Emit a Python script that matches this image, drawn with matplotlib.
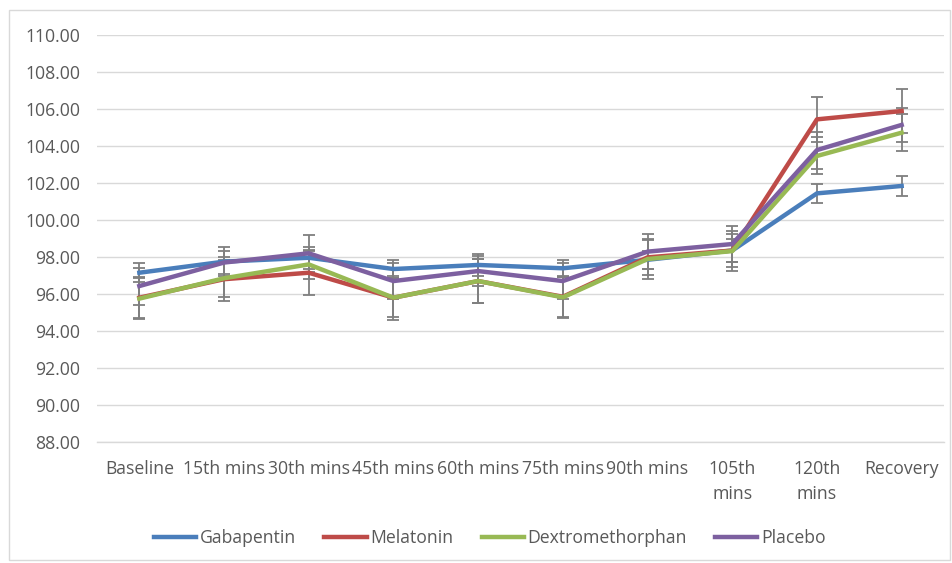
#Line chart of four treatments over time, with error bars
import matplotlib.pyplot as plt
from matplotlib.patches import Rectangle

plt.rcParams['font.family'] = ['Liberation Sans Narrow', 'Open Sans', 'DejaVu Sans']

categories = ["Baseline", "15th mins", "30th mins", "45th mins", "60th mins",
              "75th mins", "90th mins", "105th\nmins", "120th\nmins", "Recovery"]

gabapentin = [97.15, 97.75, 97.96, 97.35, 97.57, 97.39, 97.85, 98.35, 101.44, 101.84]
melatonin = [95.80, 96.80, 97.15, 95.80, 96.70, 95.85, 97.98, 98.35, 105.44, 105.89]
dextromethorphan = [95.75, 96.85, 97.60, 95.80, 96.70, 95.82, 97.89, 98.32, 103.46, 104.72]
placebo = [96.43, 97.70, 98.20, 96.70, 97.24, 96.70, 98.29, 98.70, 103.78, 105.14]

gabapentin_err = [0.50, 0.80, 0.60, 0.50, 0.60, 0.45, 0.50, 0.60, 0.52, 0.53]
melatonin_err = [1.10, 1.20, 1.20, 1.05, 1.20, 1.10, 0.95, 0.90, 1.20, 1.20]
dextromethorphan_err = [1.10, 1.00, 0.80, 1.20, 1.20, 1.10, 1.10, 1.10, 1.00, 1.00]
placebo_err = [1.00, 0.60, 1.00, 0.95, 0.80, 0.95, 0.95, 0.95, 1.00, 0.90]

series = [
    ("Gabapentin", gabapentin, gabapentin_err, "#4a7ebb"),
    ("Melatonin", melatonin, melatonin_err, "#be4b48"),
    ("Dextromethorphan", dextromethorphan, dextromethorphan_err, "#98b954"),
    ("Placebo", placebo, placebo_err, "#7d60a0"),
]

fig = plt.figure(figsize=(9.53, 5.63), dpi=100)
fig.patches.append(Rectangle((9 / 953, 3 / 563), 941 / 953, 550 / 563,
                             transform=fig.transFigure, fill=False,
                             edgecolor="#d9d9d9", linewidth=1.0))
ax = fig.add_axes([97 / 953, 1 - 442 / 563, 847 / 953, 407 / 563])

x = list(range(len(categories)))
for name, values, errs, color in series:
    ax.errorbar(x, values, yerr=errs, color=color, linewidth=3.2, label=name,
                ecolor="#7f7f7f", elinewidth=1.3, capsize=4.5, capthick=1.3)

ax.set_ylim(88, 110)
ax.set_yticks([88 + 2 * i for i in range(12)])
ax.set_yticklabels(["%.2f" % (88 + 2 * i) for i in range(12)])
ax.set_xlim(-0.5, len(categories) - 0.5)
ax.set_xticks(x)
ax.set_xticklabels(categories, linespacing=1.5)

ax.grid(axis="y", color="#d9d9d9", linewidth=1.0)
ax.set_axisbelow(True)
for side in ["top", "right", "left"]:
    ax.spines[side].set_visible(False)
ax.spines["bottom"].set_color("#d9d9d9")
ax.spines["bottom"].set_linewidth(1.0)
ax.tick_params(axis="both", length=0, labelsize=12.7, labelcolor="#595959")
ax.tick_params(axis="y", pad=12)
ax.tick_params(axis="x", pad=13)

handles, labels = ax.get_legend_handles_labels()
handles = [h[0] for h in handles]
fig.legend(handles, labels, loc="center", bbox_to_anchor=(0.514, 1 - 538 / 563),
           ncol=4, frameon=False, fontsize=12.7, labelcolor="#595959",
           handlelength=2.4, handletextpad=0.2, columnspacing=1.6)

fig.savefig("out.png", dpi=100)
